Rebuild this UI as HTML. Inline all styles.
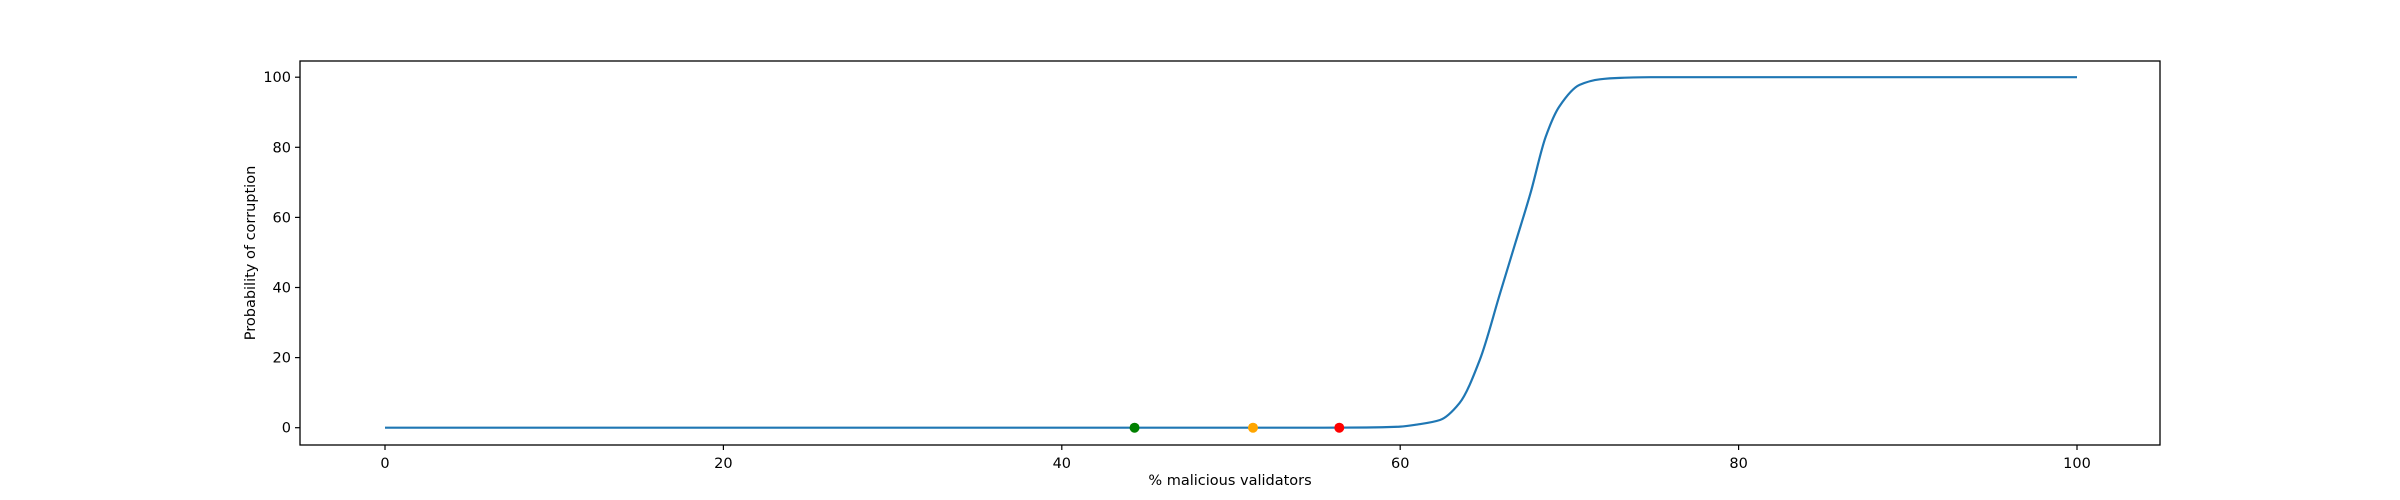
<!DOCTYPE html>
<html><head><meta charset="utf-8"><style>
body{margin:0;background:#fff}
svg{display:block;font-family:"DejaVu Sans","Liberation Sans",sans-serif}
</style></head><body>
<svg id="chart" width="2400" height="500" xmlns="http://www.w3.org/2000/svg"></svg>
<script>
const curveX = [0, 10, 20, 30, 40, 50, 55, 58, 60, 61, 62.35, 63.5, 64.7, 65.9, 66.8, 67.7, 68.6, 69.4, 70.6, 71.8, 73, 74.8, 80, 90, 100];
const curveY = [0, 0, 0, 0, 0, 0, 0, 0.05, 0.3, 0.9, 2.2, 7.0, 19.3, 38.3, 52.6, 66.9, 83.0, 91.6, 97.8, 99.4, 99.8, 100, 100, 100, 100];
const pointX = [44.3, 51.3, 56.4];
const pointY = [0, 0, 0];
const pointColors = ['#008000', '#FFA500', '#FF0000'];
const xTicks = [0, 20, 40, 60, 80, 100];
const yTicks = [0, 20, 40, 60, 80, 100];

const NS = 'http://www.w3.org/2000/svg';
const svg = document.getElementById('chart');
const L = 300, R = 2160, T = 61, B = 445;
const sx = v => 385 + v * 16.92;
const sy = v => 427.7 - v * 3.505;
function mk(tag, attrs, parent) {
  const e = document.createElementNS(NS, tag);
  for (const k in attrs) e.setAttribute(k, attrs[k]);
  (parent || svg).appendChild(e);
  return e;
}

// monotone cubic path (Fritsch-Carlson) for smooth rendering
function monotonePath(xs, ys) {
  const n = xs.length, px = xs.map(sx), py = ys.map(sy);
  const dx = [], m = [], t = new Array(n);
  for (let i = 0; i < n - 1; i++) { dx.push(px[i+1]-px[i]); m.push((py[i+1]-py[i])/(px[i+1]-px[i])); }
  t[0] = m[0]; t[n-1] = m[n-2];
  for (let i = 1; i < n - 1; i++) {
    if (m[i-1] * m[i] <= 0) t[i] = 0;
    else { const w1 = 2*dx[i]+dx[i-1], w2 = dx[i]+2*dx[i-1]; t[i] = (w1+w2)/(w1/m[i-1]+w2/m[i]); }
  }
  let d = 'M' + px[0].toFixed(2) + ',' + py[0].toFixed(2);
  for (let i = 0; i < n - 1; i++) {
    const h = dx[i] / 3;
    d += ' C' + (px[i]+h).toFixed(2) + ',' + (py[i]+t[i]*h).toFixed(2) + ' ' +
         (px[i+1]-h).toFixed(2) + ',' + (py[i+1]-t[i+1]*h).toFixed(2) + ' ' +
         px[i+1].toFixed(2) + ',' + py[i+1].toFixed(2);
  }
  return d;
}

const line = mk('path', {d: monotonePath(curveX, curveY), fill: 'none', stroke: '#1f77b4', 'stroke-width': 2.2, 'stroke-linejoin': 'round'});



pointX.forEach((x, i) => {
  const c = mk('circle', {cx: sx(x), cy: sy(pointY[i]), r: 5, fill: pointColors[i]});
  
  
});

const frame = mk('rect', {x: L, y: T, width: R - L, height: B - T, fill: 'none', stroke: '#000', 'stroke-width': 1.3});



xTicks.forEach(v => {
  const g = mk('g', {});
  
  
  mk('line', {x1: sx(v), x2: sx(v), y1: B, y2: B + 5, stroke: '#000', 'stroke-width': 1.2}, g);
  const t = mk('text', {x: sx(v), y: B + 23, 'text-anchor': 'middle', 'font-size': 14.5, fill: '#000'}, g);
  t.textContent = v;
});
yTicks.forEach(v => {
  const g = mk('g', {});
  
  
  mk('line', {x1: L - 5, x2: L, y1: sy(v), y2: sy(v), stroke: '#000', 'stroke-width': 1.2}, g);
  const t = mk('text', {x: L - 9, y: sy(v) + 5, 'text-anchor': 'end', 'font-size': 14.5, fill: '#000'}, g);
  t.textContent = v;
});

const xl = mk('text', {x: (L + R) / 2, y: 485, 'text-anchor': 'middle', 'font-size': 14.5, fill: '#000'});
xl.textContent = '% malicious validators';


const yl = mk('text', {x: 0, y: 0, 'text-anchor': 'middle', 'font-size': 14.5, fill: '#000', transform: 'translate(255,' + ((T + B) / 2) + ') rotate(-90)'});
yl.textContent = 'Probability of corruption';


</script>
</body></html>
